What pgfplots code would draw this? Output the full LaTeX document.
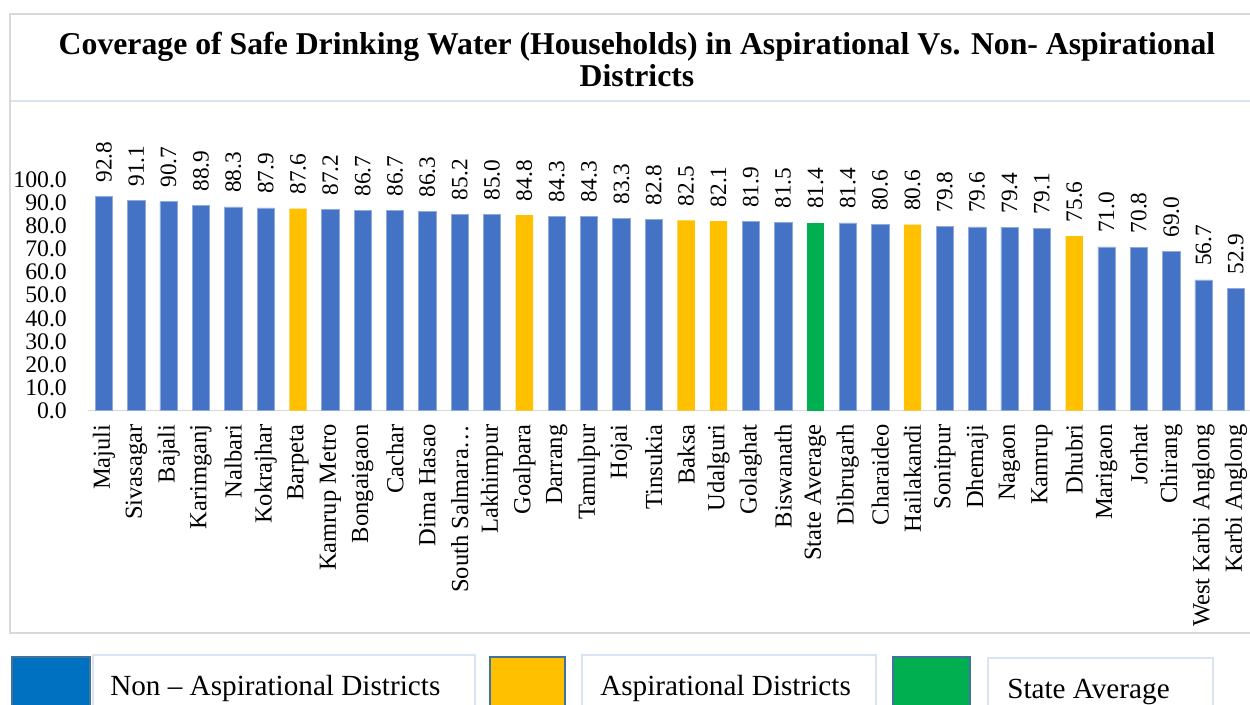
\documentclass[border=0pt]{standalone}
\usepackage{fontspec}
\setmainfont{Liberation Serif}
\usepackage{pgfplots}
\pgfplotsset{compat=1.18}
\definecolor{barblue}{HTML}{4472C4}
\definecolor{baredge}{HTML}{8FAADC}
\definecolor{baryellow}{HTML}{FFC000}
\definecolor{bargreen}{HTML}{00B050}
\definecolor{legblue}{HTML}{0070C0}
\definecolor{legedge}{HTML}{41719C}
\definecolor{framegray}{HTML}{D9D9D9}
\definecolor{boxblue}{HTML}{DAE3F3}
\begin{document}
\begin{tikzpicture}
\useasboundingbox (0,0) rectangle (937.5pt,528pt);
\begin{scope}[x=0.75pt,y=-0.75pt,yshift=528pt]
% frame
\draw[framegray, line width=1.5pt] (10,14) rectangle (1262,633);
\draw[boxblue, line width=1.2pt] (11,101) -- (1262,101);
\node[font=\fontsize{23.8}{24}\selectfont\bfseries, align=center] at (637,59)
  {Coverage of Safe Drinking Water (Households) in Aspirational Vs. Non- Aspirational\\Districts};
% legend
\draw[legedge, line width=1.2pt, fill=legblue] (12,657) rectangle (90,712);
\draw[boxblue, line width=1.2pt, fill=white] (93,655) rectangle (475,712);
\node[anchor=base west, inner sep=0pt, font=\fontsize{21.9}{22}\selectfont] at (110,695.5) {Non -- Aspirational Districts};
\draw[legedge, line width=1.5pt, fill=baryellow] (490,657) rectangle (565,712);
\draw[boxblue, line width=1.2pt, fill=white] (582,655) rectangle (876,712);
\node[anchor=base west, inner sep=0pt, font=\fontsize{21.9}{22}\selectfont] at (600,695.5) {Aspirational Districts};
\draw[legedge, line width=1.5pt, fill=bargreen] (893,657) rectangle (970,712);
\draw[boxblue, line width=1.2pt, fill=white] (988,658) rectangle (1213,712);
\node[anchor=base west, inner sep=0pt, font=\fontsize{21.9}{22}\selectfont] at (1007,698) {State Average};
\end{scope}
\begin{axis}[
  at={(65.85pt,220.125pt)}, anchor=south west,
  scale only axis, width=873.2pt, height=172.9pt,
  xmin=-0.5, xmax=35.5, ymin=0, ymax=100,
  axis x line*=bottom, axis y line*=left,
  x axis line style={framegray, line width=1.2pt, -},
  y axis line style={draw=none},
  clip=false,
  ybar, bar width=13pt, bar shift=0pt,
  xtick={0,...,35}, ytick={0,10,...,100}, major tick length=0pt,
  xticklabels={Majuli,Sivasagar,Bajali,Karimganj,Nalbari,Kokrajhar,Barpeta,Kamrup Metro,Bongaigaon,Cachar,Dima Hasao,South Salmara\ldots,Lakhimpur,Goalpara,Darrang,Tamulpur,Hojai,Tinsukia,Baksa,Udalguri,Golaghat,Biswanath,State Average,Dibrugarh,Charaideo,Hailakandi,Sonitpur,Dhemaji,Nagaon,Kamrup,Dhubri,Marigaon,Jorhat,Chirang,West Karbi Anglong,Karbi Anglong},
  xticklabel style={rotate=90, anchor=east, font=\fontsize{18.4}{18}\selectfont, inner xsep=0pt, outer sep=0pt, xshift=-10.5pt},
  yticklabel style={font=\fontsize{17.8}{17}\selectfont, anchor=east, inner xsep=0pt, outer sep=0pt, xshift=-15.75pt},
  y tick label style={/pgf/number format/.cd, fixed, zerofill, precision=1, assume math mode=true},
  nodes near coords={\pgfmathprintnumber[fixed,zerofill,precision=1,assume math mode=true]{\pgfplotspointmeta}},
  every node near coord/.append style={rotate=90, anchor=west, font=\fontsize{17.5}{17}\selectfont, inner xsep=0pt, outer sep=0pt, xshift=10.5pt},
]
\addplot[fill=barblue, draw=baredge, line width=0.4pt] coordinates {
(0,92.8) (1,91.1) (2,90.7) (3,88.9) (4,88.3) (5,87.9) (7,87.2) (8,86.7) (9,86.7) (10,86.3)
(11,85.2) (12,85.0) (14,84.3) (15,84.3) (16,83.3) (17,82.8) (20,81.9) (21,81.5) (23,81.4)
(24,80.6) (26,79.8) (27,79.6) (28,79.4) (29,79.1) (31,71.0) (32,70.8) (33,69.0) (34,56.7) (35,52.9)};
\addplot[fill=baryellow, draw=none] coordinates {
(6,87.6) (13,84.8) (18,82.5) (19,82.1) (25,80.6) (30,75.6)};
\addplot[fill=bargreen, draw=none] coordinates {(22,81.4)};
\end{axis}
\end{tikzpicture}
\end{document}
